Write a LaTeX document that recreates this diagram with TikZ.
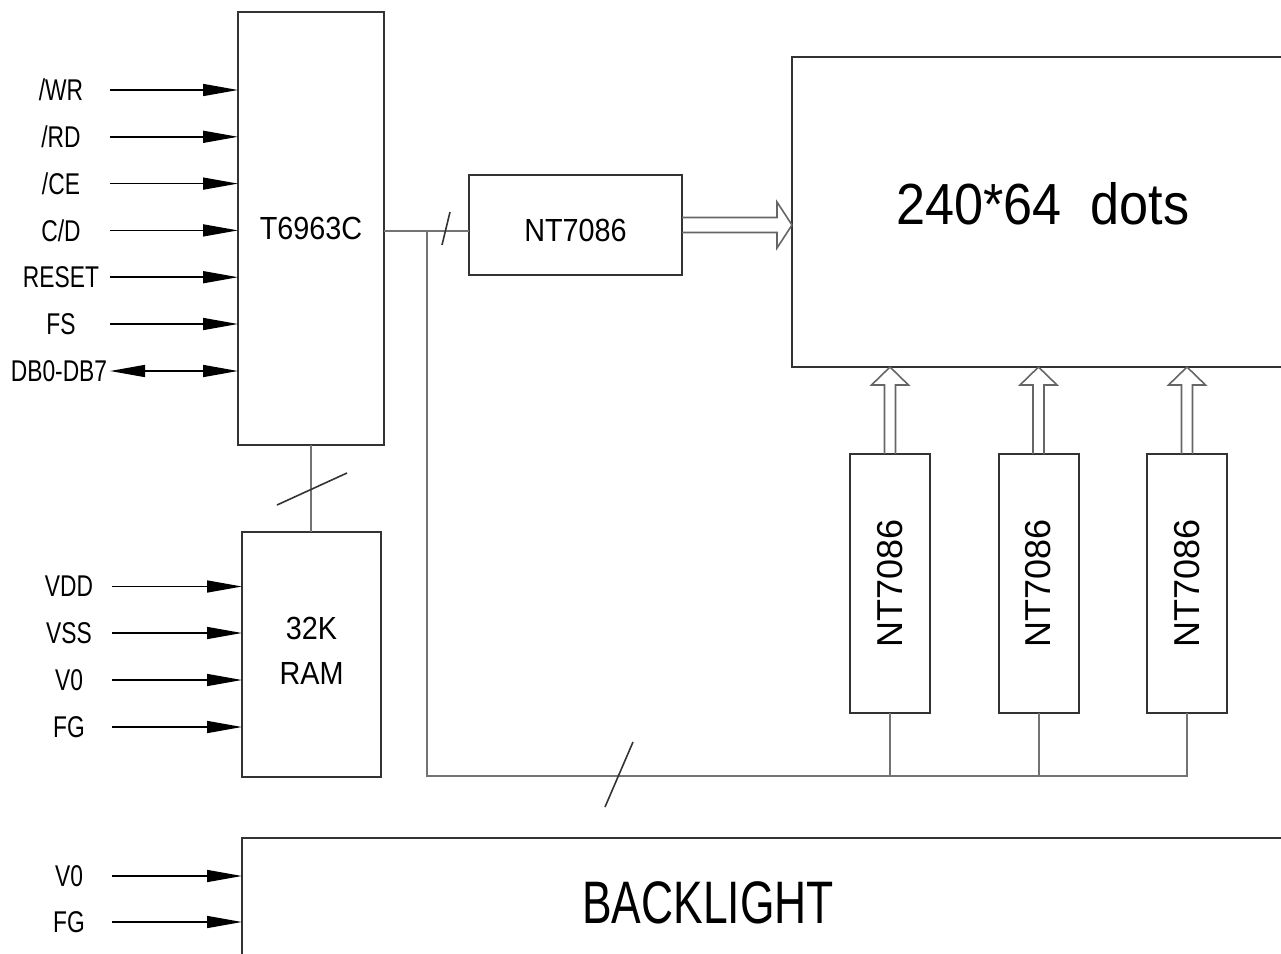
\documentclass[tikz,border=0pt]{standalone}
\usepackage{graphicx}
\usepackage{fontspec}
\setmainfont{Liberation Sans}
\newfontfamily\pinfont[FakeStretch=0.76]{Liberation Sans}
\newfontfamily\chipfont[FakeStretch=0.9]{Liberation Sans}
\newfontfamily\narrowfont[FakeStretch=0.74]{Liberation Sans}
\usetikzlibrary{arrows.meta,positioning}

\begin{document}
\begin{tikzpicture}[
  x=0.5pt,
  y=-0.5pt,
  block/.style={
    draw=black!80,
    line width=1pt,
    inner sep=0pt,
    outer sep=0pt,
    align=center,
    font=\chipfont\fontsize{16}{22.5}\selectfont
  },
  pin label/.style={
    inner sep=0pt,
    font=\pinfont\fontsize{15}{17}\selectfont
  },
  sig arrow/.style={
    -{Triangle[length=17.5pt,width=6pt]},
    line width=0.75pt
  },
  wire/.style={
    draw=black!55,
    line width=1pt
  },
  hollow/.style={
    draw=black!60,
    line width=0.8pt,
    line join=miter
  },
  bus mark/.style={
    draw=black!80,
    line width=0.8pt
  }
]

\useasboundingbox (0,0) rectangle (1281,954);
\clip (0,0) rectangle (1281,954);

\node[block,minimum width=73pt,minimum height=216.5pt] (ctrl) at (311,228.5) {T6963C};
\node[block,minimum width=106.5pt,minimum height=50pt,text height=17pt] (coldrv) at (575.5,225) {NT7086};
\node[block,minimum width=251pt,minimum height=155pt,text depth=9pt,
      font=\chipfont\fontsize{29}{32}\selectfont] (lcd) at (1043,212) {240*64~~dots};
\foreach \k/\xx in {1/890,2/1038.5,3/1187}
  \node[block,minimum width=40pt,minimum height=129.5pt,
        font=\fontsize{18}{20}\selectfont] (rowdrv-\k) at (\xx,583.5) {\rotatebox{90}{NT7086}};
\node[block,minimum width=69.5pt,minimum height=122.5pt,text depth=4pt] (ram) at (311.5,654.5) {32K\\RAM};
\node[block,anchor=north west,minimum width=539pt,minimum height=81pt] (blight) at (242,838) {};
\node[inner sep=0pt,font=\narrowfont\fontsize{30}{32}\selectfont] (blight-text) at (708,903) {BACKLIGHT};

\foreach \sig [count=\i] in {{/WR},{/RD},{/CE},{C/D},{RESET},{FS}} {
  \node[pin label] (pin-\i) at (61,{90+(\i-1)*46.8}) {\sig};
  \coordinate (pin-\i-start) at (110,{90+(\i-1)*46.8});
  \draw[sig arrow] (pin-\i-start) -- (pin-\i-start -| ctrl.west);
}
\node[pin label] (pin-db) at (59,371) {DB0-DB7};
\coordinate (pin-db-start) at (110,371);
\draw[{Triangle[length=17.5pt,width=6pt]}-{Triangle[length=17.5pt,width=6pt]},line width=0.75pt]
  (pin-db-start) -- (pin-db-start -| ctrl.west);

\foreach \sig/\yy [count=\i] in {VDD/586.5,VSS/633,V0/680,FG/727} {
  \node[pin label] (rpin-\i) at (69,\yy) {\sig};
  \coordinate (rpin-\i-start) at (112,\yy);
  \draw[sig arrow] (rpin-\i-start) -- (rpin-\i-start -| ram.west);
}
\foreach \sig/\yy [count=\i] in {V0/876,FG/922} {
  \node[pin label] (bpin-\i) at (69,\yy) {\sig};
  \coordinate (bpin-\i-start) at (112,\yy);
  \draw[sig arrow] (bpin-\i-start) -- (bpin-\i-start -| blight.west);
}

\coordinate (ctrl-out) at (ctrl.east |- 0,231);
\coordinate (bus-split) at (427,231);
\draw[wire] (ctrl-out) -- (ctrl-out -| coldrv.west);
\draw[wire] (bus-split) |- (rowdrv-3.south |- 0,776) -- (rowdrv-3.south);
\foreach \k in {1,2}
  \draw[wire] (rowdrv-\k.south) -- (rowdrv-\k.south |- 0,776);
\draw[wire] (ctrl.south) -- (ctrl.south |- ram.north);

\draw[bus mark] (446,228.5) +(-4,16.5) -- +(4,-16.5);
\draw[bus mark] (312,489) +(-35,16) -- +(35,-16);
\draw[bus mark] (619,774.5) +(-14,32.5) -- +(14,-32.5);

\coordinate (lcd-in) at (lcd.west |- coldrv.east);
\draw[hollow] (lcd-in) -- ++(-15,-23) -- ++(0,15.5) -- ([yshift=3.75pt]coldrv.east)
  ([yshift=-3.75pt]coldrv.east) -- ++(95,0) -- ++(0,15.5) -- (lcd-in);
\foreach \k in {1,2,3} {
  \coordinate (lcd-in-\k) at (rowdrv-\k.north |- lcd.south);
  \draw[hollow] (lcd-in-\k) -- ++(-18.5,18) -- ++(13,0) -- ([xshift=-2.75pt]rowdrv-\k.north)
    ([xshift=2.75pt]rowdrv-\k.north) -- ++(0,-69) -- ++(13,0) -- (lcd-in-\k);
}

\end{tikzpicture}
\end{document}
